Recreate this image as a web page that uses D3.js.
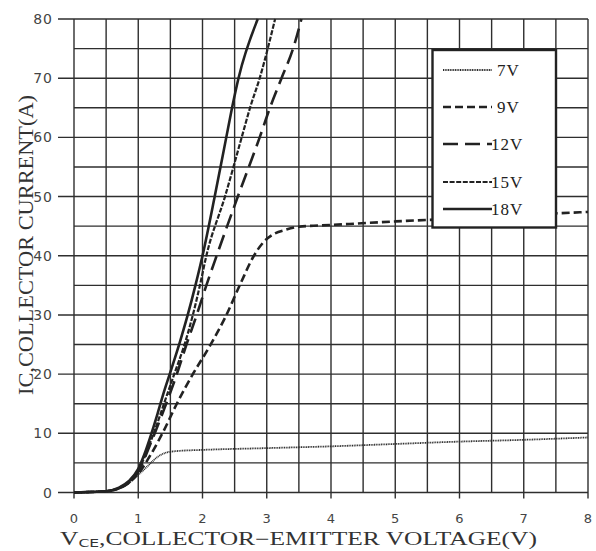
<!DOCTYPE html>
<html>
<head>
<meta charset="utf-8">
<script src="https://cdn.jsdelivr.net/npm/d3@7"></script>
<style>
  body { margin: 0; background: #fff; }
</style>
</head>
<body>
<div id="chartContainer"></div>
<script>
// Chart values
const xTicks = [0, 1, 2, 3, 4, 5, 6, 7, 8];
const yTicks = [0, 10, 20, 30, 40, 50, 60, 70, 80];

const v7  = [0, 0.3, 0.5, 0.7, 0.85, 1.0, 1.15, 1.3, 1.45, 1.6, 2, 3, 4, 5, 6, 7, 8];
const i7  = [0, 0.1, 0.3, 0.8, 1.8, 3.0, 4.5, 6.0, 6.8, 7.0, 7.2, 7.5, 7.8, 8.2, 8.6, 8.9, 9.3];

const v9  = [0, 0.3, 0.5, 0.7, 0.85, 1.0, 1.2, 1.4, 1.6, 1.85, 2.1, 2.35, 2.6, 2.8, 2.95, 3.1, 3.3, 3.5, 4, 5, 6, 7, 8];
const i9  = [0, 0.1, 0.2, 0.7, 1.6, 3.2, 6.5, 10.5, 15, 20, 24.5, 29.5, 35.5, 40, 42.3, 43.6, 44.4, 44.9, 45.2, 45.8, 46.3, 46.9, 47.4];

const v12 = [0, 0.3, 0.5, 0.7, 0.85, 1.0, 1.2, 1.4, 1.6, 1.75, 1.91, 2.06, 2.22, 2.55, 2.89, 3.05, 3.23, 3.41, 3.54];
const i12 = [0, 0.1, 0.2, 0.7, 1.6, 3.5, 8.5, 14, 20, 25, 30, 35, 40, 50, 60, 65, 70, 75, 80];

const v15 = [0, 0.3, 0.5, 0.7, 0.85, 1.0, 1.1, 1.2, 1.3, 1.4, 1.56, 1.72, 1.85, 1.96, 2.06, 2.35, 2.61, 2.74, 2.89, 3.13];
const i15 = [0, 0.1, 0.2, 0.7, 1.7, 3.8, 6.0, 8.8, 11.8, 15, 20, 25, 30, 35, 40, 50, 60, 65, 70, 80];

const v18 = [0, 0.3, 0.5, 0.7, 0.85, 1.0, 1.1, 1.2, 1.3, 1.4, 1.52, 1.65, 1.77, 1.89, 2.0, 2.19, 2.37, 2.46, 2.56, 2.86];
const i18 = [0, 0.1, 0.2, 0.8, 1.9, 4.0, 6.6, 9.8, 13.3, 17, 21, 25.5, 30, 35, 40, 50, 60, 65, 70, 80];

const seriesNames = ["7V", "9V", "12V", "15V", "18V"];

// Build series table
const styles = {
  "7V":  { dash: "1,0.7",  width: 1.8, color: "#2a2a2a" },
  "9V":  { dash: "8,4",    width: 2.6, color: "#222" },
  "12V": { dash: "15,7",   width: 2.6, color: "#222" },
  "15V": { dash: "5,1.6",  width: 2.2, color: "#222" },
  "18V": { dash: null,     width: 2.6, color: "#222" }
};
const raw = { "7V": [v7, i7], "9V": [v9, i9], "12V": [v12, i12], "15V": [v15, i15], "18V": [v18, i18] };
const series = seriesNames.map(name => ({
  name,
  points: raw[name][0].map((v, k) => ({ v, i: raw[name][1][k] }))
}));

const w = 596;
const h = 551;
const plot = { left: 74, right: 588, top: 19, bottom: 492.5 };

const svg = d3.select("#chartContainer")
  .append("svg")
    .attr("width", w)
    .attr("height", h);

const xScale = d3.scaleLinear().domain([0, 8]).range([plot.left, plot.right]);
const yScale = d3.scaleLinear().domain([0, 80]).range([plot.bottom, plot.top]);

// Grid: every 0.5 V and every 5 A
const gridColor = "#2e2e2e";
const gridG = svg.append("g");
gridG.selectAll(".vgrid")
  .data(d3.range(0, 8.01, 0.5))
  .enter()
  .append("line")
    .attr("x1", d => xScale(d))
    .attr("x2", d => xScale(d))
    .attr("y1", plot.top)
    .attr("y2", d => Number.isInteger(d) ? plot.bottom + 6 : plot.bottom)
    .attr("stroke", gridColor)
    .attr("stroke-width", 1.4);

gridG.selectAll(".hgrid")
  .data(d3.range(0, 80.01, 5))
  .enter()
  .append("line")
    .attr("x1", d => d % 10 === 0 ? plot.left - 16 : plot.left)
    .attr("x2", plot.right)
    .attr("y1", d => yScale(d))
    .attr("y2", d => yScale(d))
    .attr("stroke", gridColor)
    .attr("stroke-width", 1.4);

// Tick labels
svg.append("g")
  .selectAll("text")
  .data(yTicks)
  .enter()
  .append("text")
    .attr("x", 53)
    .attr("y", d => yScale(d))
    .attr("dy", "0.36em")
    .attr("text-anchor", "end")
    .attr("font-family", "DejaVu Sans")
    .attr("font-size", 14)
    .attr("letter-spacing", 1)
    .attr("fill", "#444")
    .text(d => d);

svg.append("g")
  .selectAll("text")
  .data(xTicks)
  .enter()
  .append("text")
    .attr("x", d => xScale(d))
    .attr("y", 523)
    .attr("text-anchor", "middle")
    .attr("font-family", "DejaVu Sans")
    .attr("font-size", 13)
    .attr("fill", "#444")
    .text(d => d);

// Curves
const line = d3.line()
  .x(d => xScale(d.v))
  .y(d => yScale(d.i))
  .curve(d3.curveMonotoneX);

svg.append("g")
  .selectAll("path")
  .data(series)
  .enter()
  .append("path")
    .attr("d", d => line(d.points))
    .attr("fill", "none")
    .attr("stroke", d => styles[d.name].color)
    .attr("stroke-width", d => styles[d.name].width)
    .attr("stroke-dasharray", d => styles[d.name].dash);

// Legend box
const legend = svg.append("g");
legend.append("rect")
  .attr("x", 432.5)
  .attr("y", 50)
  .attr("width", 123.5)
  .attr("height", 177.5)
  .attr("fill", "#fff")
  .attr("stroke", "#222")
  .attr("stroke-width", 2.4);

const legendY = [70, 107, 144, 182, 209];
series.forEach((s, k) => {
  legend.append("line")
    .attr("x1", 443)
    .attr("x2", 492)
    .attr("y1", legendY[k])
    .attr("y2", legendY[k])
    .attr("stroke", styles[s.name].color)
    .attr("stroke-width", styles[s.name].width)
    .attr("stroke-dasharray", styles[s.name].dash);
  legend.append("text")
    .attr("x", s.name.length === 2 ? 497 : 491)
    .attr("y", legendY[k])
    .attr("dy", "0.35em")
    .attr("font-family", "Liberation Serif")
    .attr("font-size", 17)
    .attr("letter-spacing", 1)
    .attr("fill", "#222")
    .text(s.name);
});

// Axis titles
const xTitle = svg.append("text")
  .attr("x", 60)
  .attr("y", 545)
  .attr("font-family", "Liberation Serif")
  .attr("font-size", 18)
  .attr("fill", "#333")
  .attr("textLength", 477)
  .attr("lengthAdjust", "spacingAndGlyphs");
xTitle.append("tspan").text("V");
xTitle.append("tspan")
  .attr("font-family", "DejaVu Sans")
  .attr("font-size", 11)
  .attr("dy", 2)
  .text("CE");
xTitle.append("tspan")
  .attr("dy", -2)
  .text(",COLLECTOR\u2212EMITTER VOLTAGE(V)");

svg.append("text")
  .attr("transform", "translate(33, 395) rotate(-90)")
  .attr("font-family", "Liberation Serif")
  .attr("font-size", 22)
  .attr("fill", "#333")
  .attr("textLength", 300)
  .attr("lengthAdjust", "spacingAndGlyphs")
  .text("IC,COLLECTOR CURRENT(A)");
</script>
</body>
</html>
